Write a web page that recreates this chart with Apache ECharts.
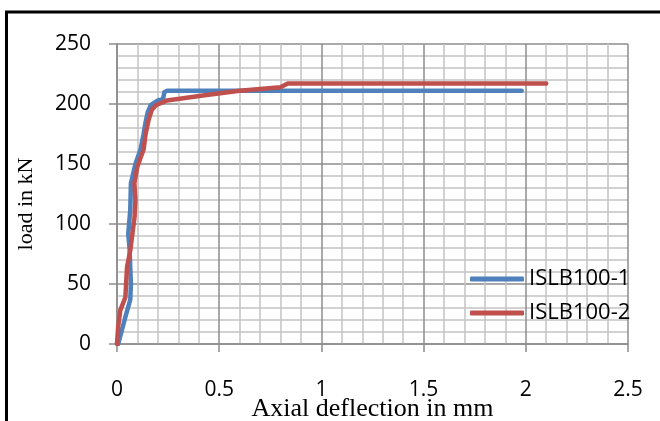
<!DOCTYPE html>
<html>
<head>
<meta charset="utf-8">
<script src="https://cdn.jsdelivr.net/npm/echarts@6/dist/echarts.min.js"></script>
<style>
html,body{margin:0;padding:0;background:#fff;}
#c{width:660px;height:421px;}
</style>
</head>
<body>
<div id="c"></div>
<script>
var seriesNames = ['ISLB100-1', 'ISLB100-2'];
var xTicks = [0, 0.5, 1, 1.5, 2, 2.5];
var yTicks = [0, 50, 100, 150, 200, 250];

var s1Deflection = [0.006, 0.04, 0.065, 0.068, 0.062, 0.055, 0.065, 0.068, 0.09, 0.115, 0.13, 0.14, 0.15, 0.165, 0.2, 0.225, 0.232, 0.245, 1.98];
var s1Load       = [0,     22,   37,    50,    78,    92,    112,   134,   150,  162,   175,  185,  193,  199,   203, 204,   210,   211,   211];

var s2Deflection = [0, 0.006, 0.016, 0.041, 0.049, 0.065, 0.086, 0.09, 0.085, 0.1, 0.13, 0.14, 0.155, 0.17, 0.19, 0.245, 0.42, 0.6, 0.8, 0.835, 2.1];
var s2Load       = [0, 15,    28,    39,    64,    78,    106,   120,  134,   148, 162,  175,  187,   195,  199,  203,   207,  211, 214, 217,   217];

function pairs(xs, ys){ var o=[]; for(var i=0;i<xs.length;i++){o.push([xs[i], ys[i]]);} return o; }

var chart = echarts.init(document.getElementById('c'), null, {renderer:'canvas'});
var labelFont = 'Open Sans';
chart.setOption({
  animation:false,
  backgroundColor:'#fff',
  grid:{left:117, right:32, top:44, bottom:77, containLabel:false, outerBoundsMode:'none'},
  graphic:[{type:'rect', shape:{x:6.5, y:12, width:1000, height:1000}, style:{fill:'none', stroke:'#000', lineWidth:3}, silent:true, z:100}],
  legend:{
    orient:'vertical', left:470, top:268, padding:0,
    itemWidth:54, itemHeight:5, itemGap:12, icon:'roundRect',
    textStyle:{fontFamily:labelFont, fontSize:22, lineHeight:22, color:'#000'},
    data:seriesNames
  },
  xAxis:{
    type:'value', min:xTicks[0], max:xTicks[xTicks.length-1], interval:0.5,
    name:'Axial deflection in mm', nameLocation:'middle', nameGap:52, nameMoveOverlap:false,
    nameTextStyle:{fontFamily:'Liberation Serif', fontSize:26, color:'#000'},
    axisLine:{show:true, lineStyle:{color:'#8c8c8c', width:1.5}},
    axisTick:{show:true, inside:false, length:8, lineStyle:{color:'#8c8c8c', width:1.5}},
    minorTick:{show:false, splitNumber:5},
    splitLine:{show:true, lineStyle:{color:'#8c8c8c', width:1.5}},
    minorSplitLine:{show:true, lineStyle:{color:'#c3c3c3', width:1.5}},
    axisLabel:{fontFamily:labelFont, fontSize:21, color:'#000', margin:36}
  },
  yAxis:{
    type:'value', min:yTicks[0], max:yTicks[yTicks.length-1], interval:50,
    name:'load in kN', nameLocation:'middle', nameGap:80, nameRotate:90, nameMoveOverlap:false,
    nameTextStyle:{fontFamily:'Liberation Serif', fontSize:22, color:'#000', padding:[0,20,0,0]},
    axisLine:{show:true, lineStyle:{color:'#8c8c8c', width:1.5}},
    axisTick:{show:true, inside:false, length:8, lineStyle:{color:'#8c8c8c', width:1.5}},
    minorTick:{show:false, splitNumber:5},
    splitLine:{show:true, lineStyle:{color:'#8c8c8c', width:1.5}},
    minorSplitLine:{show:true, lineStyle:{color:'#c3c3c3', width:1.5}},
    axisLabel:{fontFamily:labelFont, fontSize:21, color:'#000', margin:26}
  },
  series:[
    {name:seriesNames[0], type:'line', data:pairs(s1Deflection, s1Load), showSymbol:false, symbol:'none',
     lineStyle:{color:'#4F81BD', width:4.5, cap:'round', join:'round'}, itemStyle:{color:'#4F81BD'}, z:2},
    {name:seriesNames[1], type:'line', data:pairs(s2Deflection, s2Load), showSymbol:false, symbol:'none',
     lineStyle:{color:'#C0504D', width:4.5, cap:'round', join:'round'}, itemStyle:{color:'#C0504D'}, z:3}
  ]
});
</script>
</body>
</html>
